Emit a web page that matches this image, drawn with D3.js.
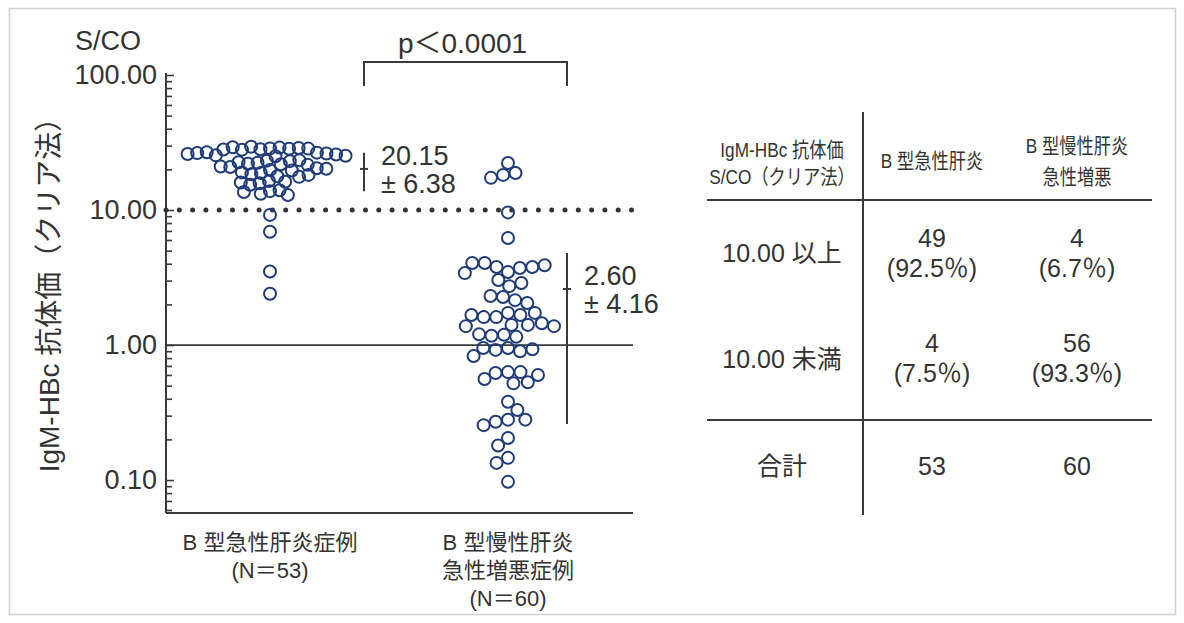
<!DOCTYPE html>
<html lang="ja">
<head>
<meta charset="utf-8">
<title>IgM-HBc 抗体価</title>
<script src="https://cdn.jsdelivr.net/npm/d3@7/dist/d3.min.js"></script>
<style>
  html, body { margin: 0; padding: 0; background: #fff; }
  svg { display: block; }
  text { fill: #333; font-family: "Liberation Sans", "Noto Sans CJK JP", sans-serif; }
</style>
</head>
<body>
<svg id="chart" width="1184" height="623"></svg>
<script>
// ---- data ----
const groups = ["acute", "chronic"];
const groupLabels = [
  ["B 型急性肝炎症例", "(N＝53)"],
  ["B 型慢性肝炎", "急性増悪症例", "(N＝60)"]
];

// S/CO values, acute hepatitis B cases (N = 53)
const acuteValues = [
  28.6, 28.2, 29.0, 28.4, 29.4, 28.0, 28.8, 29.2, 28.5, 28.1,
  26.6, 25.4, 26.2, 25.0, 26.8, 25.8, 26.4, 25.2, 26.0,
  23.2, 22.4, 21.8, 23.0, 22.0, 23.4, 22.6, 21.6,
  20.8, 19.8, 20.4, 21.0, 19.6, 20.2,
  18.8, 17.8, 18.4, 19.0, 17.6, 18.2,
  16.4, 15.8, 16.2, 15.4, 16.0,
  13.8, 13.2, 14.0, 12.9, 13.6,
  9.2, 6.9, 3.5, 2.4
];

// S/CO values, acute exacerbation of chronic hepatitis B (N = 60)
const chronicValues = [
  22.3, 18.8, 18.2, 17.3,
  9.6, 6.2,
  3.47, 3.78, 3.72, 4.05, 3.78, 4.05, 3.9, 3.41,
  3.03, 2.73, 2.88,
  2.27, 2.15, 2.31, 2.05,
  1.73, 1.67, 1.61, 1.61, 1.73, 1.67, 1.45, 1.41, 1.41, 1.38, 1.38,
  1.19, 1.15, 1.17, 1.2,
  0.95, 0.90, 0.92, 0.93, 0.95, 0.83,
  0.63, 0.62, 0.63, 0.53, 0.56, 0.60, 0.52,
  0.38, 0.33,
  0.28, 0.27, 0.28, 0.255,
  0.205, 0.18, 0.146, 0.134, 0.097
];

const groupValues = [acuteValues, chronicValues];
const means = [20.15, 2.60];
const sds = [6.38, 4.16];
const whiskerLow = [13.77, 0.26];
const whiskerHigh = [26.53, 4.8];

const majorTicks = [0.1, 1, 10, 100];
const minorTicks = [0.06, 0.07, 0.08, 0.09,
  0.2, 0.3, 0.4, 0.5, 0.6, 0.7, 0.8, 0.9,
  2, 3, 4, 5, 6, 7, 8, 9,
  20, 30, 40, 50, 60, 70, 80, 90];
const cutoff = 10;
const pText = "p＜0.0001";

// contingency table
const tableHeader = [["IgM-HBc 抗体価", "S/CO（クリア法）"], ["B 型急性肝炎"], ["B 型慢性肝炎", "急性増悪"]];
const tableRowLabels = ["10.00 以上", "10.00 未満", "合計"];
const acuteCounts = [49, 4];
const chronicCounts = [4, 56];

// ---- layout ----
const svg = d3.select("#chart");
const ink = "#3a3a3a";
const dotColor = "#1f3c78";
const plotLeft = 166, plotRight = 633;

svg.append("rect")
  .attr("x", 9.5).attr("y", 8.5).attr("width", 1166).attr("height", 606)
  .attr("fill", "none").attr("stroke", "#cfcfcf").attr("stroke-width", 1.5);

const y = d3.scaleLog().domain([0.057, 100]).range([513, 75]);
const x = d3.scalePoint().domain(groups).range([270, 508]);
const statOffset = [94, 59];

// axis: minor ticks, then labelled major ticks
const axisG = svg.append("g").attr("transform", `translate(${plotLeft},0)`);
axisG.append("g")
  .call(d3.axisLeft(y).tickValues(minorTicks).tickSizeInner(-6).tickSizeOuter(0).tickFormat(""))
  .call(g => g.selectAll("line").attr("stroke", ink).attr("stroke-width", 1.6))
  .call(g => g.select(".domain").attr("stroke", ink).attr("stroke-width", 2)
      .attr("d", `M0,${y.range()[0]}V${y(100) - 2}`));
axisG.append("g")
  .call(d3.axisLeft(y).tickValues(majorTicks).tickSizeInner(-8).tickSizeOuter(0)
      .tickPadding(9).tickFormat(d3.format(".2f")))
  .call(g => g.select(".domain").remove())
  .call(g => g.selectAll("line").attr("stroke", ink).attr("stroke-width", 1.6))
  .call(g => g.selectAll("text").attr("font-size", 27)
      .attr("font-family", "Liberation Sans, sans-serif").attr("fill", "#333"));

svg.append("text").attr("x", 75).attr("y", 50).attr("font-size", 27).text("S/CO");

svg.append("text")
  .attr("transform", `translate(49,288) rotate(-90)`)
  .attr("text-anchor", "middle").attr("dominant-baseline", "central")
  .attr("font-size", 28)
  .text("IgM-HBc 抗体価（クリア法）");

// baseline and reference line at 1.00
svg.append("line").attr("x1", plotLeft).attr("x2", plotRight)
  .attr("y1", y.range()[0]).attr("y2", y.range()[0])
  .attr("stroke", ink).attr("stroke-width", 2);
svg.append("line").attr("x1", plotLeft).attr("x2", plotRight)
  .attr("y1", y(1)).attr("y2", y(1))
  .attr("stroke", ink).attr("stroke-width", 1.8);

// cut-off at 10.00 as a dotted line
svg.append("line").attr("x1", plotLeft).attr("x2", plotRight + 3)
  .attr("y1", y(cutoff)).attr("y2", y(cutoff))
  .attr("stroke", "#333").attr("stroke-width", 5)
  .attr("stroke-linecap", "round").attr("stroke-dasharray", "0 13.3");

// swarm placement: each point goes to the free x closest to its group centre
function swarm(vals, cx, d) {
  const pts = [];
  vals.forEach((v, i) => {
    const py = y(v);
    const ivs = [];
    for (const p of pts) {
      const dy = Math.abs(p.y - py);
      if (dy < d) {
        const dx = Math.sqrt(d * d - dy * dy);
        ivs.push([p.x - dx, p.x + dx]);
      }
    }
    const cands = [cx];
    ivs.forEach(iv => cands.push(iv[0], iv[1]));
    const ok = cands.filter(c => ivs.every(iv => c <= iv[0] + 1e-6 || c >= iv[1] - 1e-6));
    ok.sort((a, b) => (Math.abs(a - cx) - Math.abs(b - cx)) || (i % 2 ? a - b : b - a));
    pts.push({ v, x: ok[0], y: py });
  });
  return pts;
}

const spacing = [9.6, 12.5];
groups.forEach((g, gi) => {
  const pts = swarm(groupValues[gi], x(g), spacing[gi]);
  svg.append("g").selectAll("circle").data(pts).join("circle")
    .attr("cx", d => d.x).attr("cy", d => d.y).attr("r", 6)
    .attr("fill", "none").attr("stroke", dotColor).attr("stroke-width", 2);

  // mean and spread bar with its label
  const bx = x(g) + statOffset[gi];
  svg.append("line").attr("x1", bx).attr("x2", bx)
    .attr("y1", y(whiskerLow[gi])).attr("y2", y(whiskerHigh[gi]))
    .attr("stroke", ink).attr("stroke-width", 2);
  svg.append("line").attr("x1", bx - 4).attr("x2", bx + 4)
    .attr("y1", y(means[gi])).attr("y2", y(means[gi]))
    .attr("stroke", ink).attr("stroke-width", 2);
  svg.append("text").attr("x", bx + 17).attr("y", y(means[gi]) - 4)
    .attr("font-size", 27).text(means[gi].toFixed(2));
  svg.append("text").attr("x", bx + 17).attr("y", y(means[gi]) + 24)
    .attr("font-size", 27).text("± " + sds[gi].toFixed(2));

  // category label below the axis, one text per line
  groupLabels[gi].forEach((t, li) => {
    svg.append("text")
      .attr("x", x(g)).attr("y", 550 + li * 28)
      .attr("text-anchor", "middle").attr("font-size", 22)
      .text(t);
  });
});

// significance bracket between the two mean bars
const b1 = x(groups[0]) + statOffset[0], b2 = x(groups[1]) + statOffset[1];
svg.append("path")
  .attr("d", `M${b1},86V62H${b2}V86`)
  .attr("fill", "none").attr("stroke", ink).attr("stroke-width", 2);
svg.append("text").attr("x", (b1 + b2) / 2 - 3).attr("y", 53)
  .attr("text-anchor", "middle").attr("font-size", 28).text(pText);

// ---- table ----
const colX = [782, 932, 1077];
const tg = svg.append("g");
tg.append("line").attr("x1", 863).attr("x2", 863).attr("y1", 112).attr("y2", 515)
  .attr("stroke", ink).attr("stroke-width", 2);
[200, 420].forEach(ly => tg.append("line")
  .attr("x1", 707).attr("x2", 1152).attr("y1", ly).attr("y2", ly)
  .attr("stroke", ink).attr("stroke-width", 2));

const headerBase = [[157, 184], [168], [153, 184]];
tableHeader.forEach((lines, ci) => {
  lines.forEach((t, li) => {
    tg.append("text")
      .attr("transform", `translate(${colX[ci]},${headerBase[ci][li]}) scale(0.82,1)`)
      .attr("text-anchor", "middle").attr("font-size", 21).text(t);
  });
});

const rowLabelBase = [262, 368, 475];
tableRowLabels.forEach((t, ri) => {
  tg.append("text").attr("x", colX[0]).attr("y", rowLabelBase[ri])
    .attr("text-anchor", "middle").attr("font-size", 25).text(t);
});

const countBase = [247, 352];
const colCounts = [acuteCounts, chronicCounts];
colCounts.forEach((counts, ci) => {
  const total = d3.sum(counts);
  counts.forEach((n, ri) => {
    tg.append("text").attr("x", colX[ci + 1]).attr("y", countBase[ri])
      .attr("text-anchor", "middle").attr("font-size", 25).text(n);
    tg.append("text").attr("x", colX[ci + 1]).attr("y", countBase[ri] + 30)
      .attr("text-anchor", "middle").attr("font-size", 25)
      .text("(" + (n / total * 100).toFixed(1) + "％)");
  });
  tg.append("text").attr("x", colX[ci + 1]).attr("y", rowLabelBase[2])
    .attr("text-anchor", "middle").attr("font-size", 25).text(total);
});
</script>
</body>
</html>
